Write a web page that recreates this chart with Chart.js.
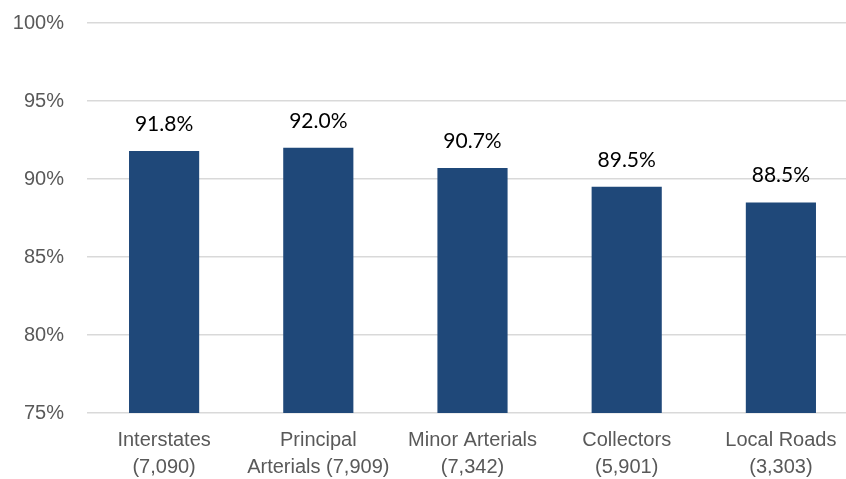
<!DOCTYPE html>
<html>
<head>
<meta charset="utf-8">
<script src="https://cdn.jsdelivr.net/npm/chart.js@4/dist/chart.umd.min.js"></script>
<style>
  html, body { margin: 0; padding: 0; background: #fff; overflow: hidden; }
  #wrap { width: 858px; height: 479px; }
</style>
</head>
<body>
<div id="wrap"><canvas id="c" width="858" height="479"></canvas></div>
<script>
const categories = [
  ['Interstates', '(7,090)'],
  ['Principal', 'Arterials (7,909)'],
  ['Minor Arterials', '(7,342)'],
  ['Collectors', '(5,901)'],
  ['Local Roads', '(3,303)']
];
const shares = [91.8, 92.0, 90.7, 89.5, 88.5];
const yTicks = [75, 80, 85, 90, 95, 100];

// value labels above each bar
const valueLabels = {
  id: 'valueLabels',
  afterDatasetsDraw(chart) {
    const ctx = chart.ctx;
    const meta = chart.getDatasetMeta(0);
    ctx.save();
    ctx.font = '21px Lato, "Liberation Sans", sans-serif';
    ctx.fillStyle = '#000';
    ctx.textAlign = 'center';
    ctx.textBaseline = 'middle';
    meta.data.forEach((bar, i) => {
      ctx.fillText(shares[i].toFixed(1) + '%', bar.x, bar.y - 27);
    });
    ctx.restore();
  }
};

new Chart(document.getElementById('c'), {
  type: 'bar',
  data: {
    labels: categories,
    datasets: [{
      data: shares,
      backgroundColor: '#1f4879',
      barPercentage: 0.455,
      categoryPercentage: 1
    }]
  },
  options: {
    responsive: false,
    animation: false,
    layout: { padding: { top: 23, left: 0, right: 0, bottom: 0 } },
    plugins: { legend: { display: false }, tooltip: { enabled: false } },
    scales: {
      x: {
        grid: { display: false },
        border: { display: false },
        ticks: {
          color: '#595959',
          font: { family: '"Liberation Sans", Arial, sans-serif', size: 20, lineHeight: 1.35 },
          padding: 6,
          maxRotation: 0,
          autoSkip: false
        },
        afterFit(scale) { scale.height = 66; }
      },
      y: {
        min: 75,
        max: 100,
        afterBuildTicks(scale) { scale.ticks = yTicks.map(v => ({ value: v })); },
        grid: { color: '#d9d9d9', lineWidth: 1.5, drawTicks: false },
        border: { display: false },
        ticks: {
          color: '#595959',
          font: { family: '"Liberation Sans", Arial, sans-serif', size: 20 },
          padding: 23,
          callback: v => v + '%'
        },
        afterFit(scale) {
          scale.width = 87;
          scale.paddingTop = 0;
          scale.paddingBottom = 0;
        }
      }
    }
  },
  plugins: [valueLabels]
});
</script>
</body>
</html>
